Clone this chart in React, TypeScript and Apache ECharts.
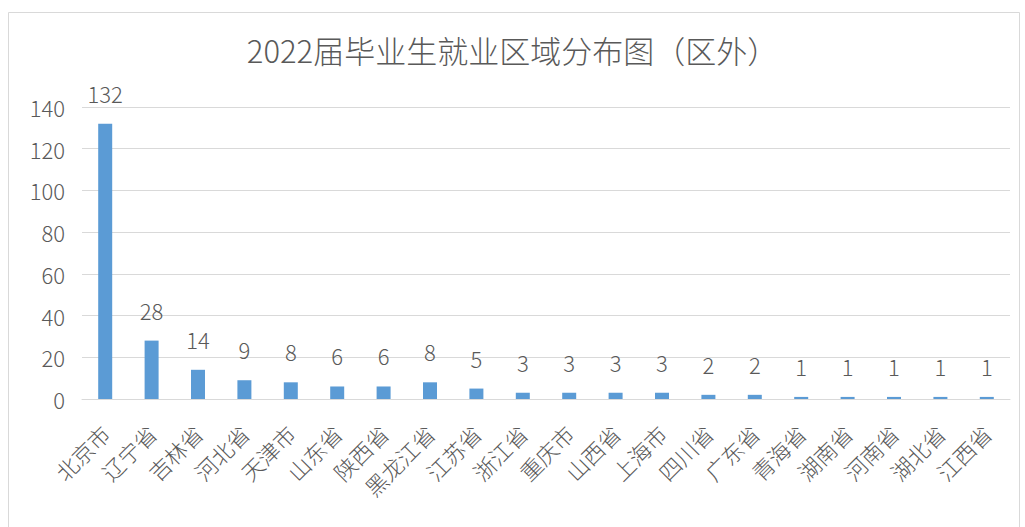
import React, { useEffect, useRef } from "react";
import * as echarts from "echarts";

const categories = ["北京市", "辽宁省", "吉林省", "河北省", "天津市", "山东省", "陕西省", "黑龙江省", "江苏省", "浙江省", "重庆市", "山西省", "上海市", "四川省", "广东省", "青海省", "湖南省", "河南省", "湖北省", "江西省"];
const values = [132, 28, 14, 9, 8, 6, 6, 8, 5, 3, 3, 3, 3, 2, 2, 1, 1, 1, 1, 1];
const titleText = "2022届毕业生就业区域分布图（区外）";

const FONT = "'Noto Sans CJK SC', 'Noto Sans', sans-serif";
const GRAY = "#595959";

export default function App() {
  const ref = useRef<HTMLDivElement>(null);
  useEffect(() => {
    document.body.style.margin = "0";
    const chart = echarts.init(ref.current!, null, { renderer: "svg" });
    chart.setOption({
      animation: false,
      backgroundColor: "#ffffff",
      textStyle: { fontFamily: FONT },
      title: {
        text: titleText,
        left: "center",
        top: 29,
        textStyle: { fontFamily: FONT, fontSize: 31, fontWeight: 300, color: GRAY },
      },
      graphic: [
        {
          type: "rect",
          shape: { x: 8.5, y: 12.5, width: 1011, height: 530 },
          style: { fill: "none", stroke: "#d9d9d9", lineWidth: 1 },
          silent: true,
        },
      ],
      grid: { left: 82, right: 15, top: 107, bottom: 128, containLabel: false },
      xAxis: {
        type: "category",
        data: categories,
        axisLine: { show: true, lineStyle: { color: "#d9d9d9" } },
        axisTick: { show: false },
        axisLabel: {
          rotate: 45,
          interval: 0,
          margin: 30,
          fontSize: 22,
          fontWeight: 300,
          color: GRAY,
          fontFamily: FONT,
        },
      },
      yAxis: {
        type: "value",
        min: 0,
        max: 140,
        interval: 20,
        axisLine: { show: false },
        axisTick: { show: false },
        splitLine: { lineStyle: { color: "#d9d9d9" } },
        axisLabel: { fontSize: 22, fontWeight: 300, color: GRAY, margin: 17, fontFamily: FONT },
      },
      series: [
        {
          type: "bar",
          data: values,
          barWidth: 14,
          itemStyle: { color: "#5b9bd5" },
          label: {
            show: true,
            position: "top",
            distance: 20,
            fontSize: 22,
            fontWeight: 300,
            color: GRAY,
            fontFamily: FONT,
          },
        },
      ],
    });
    return () => chart.dispose();
  }, []);
  return <div ref={ref} style={{ width: 1025, height: 527 }} />;
}
